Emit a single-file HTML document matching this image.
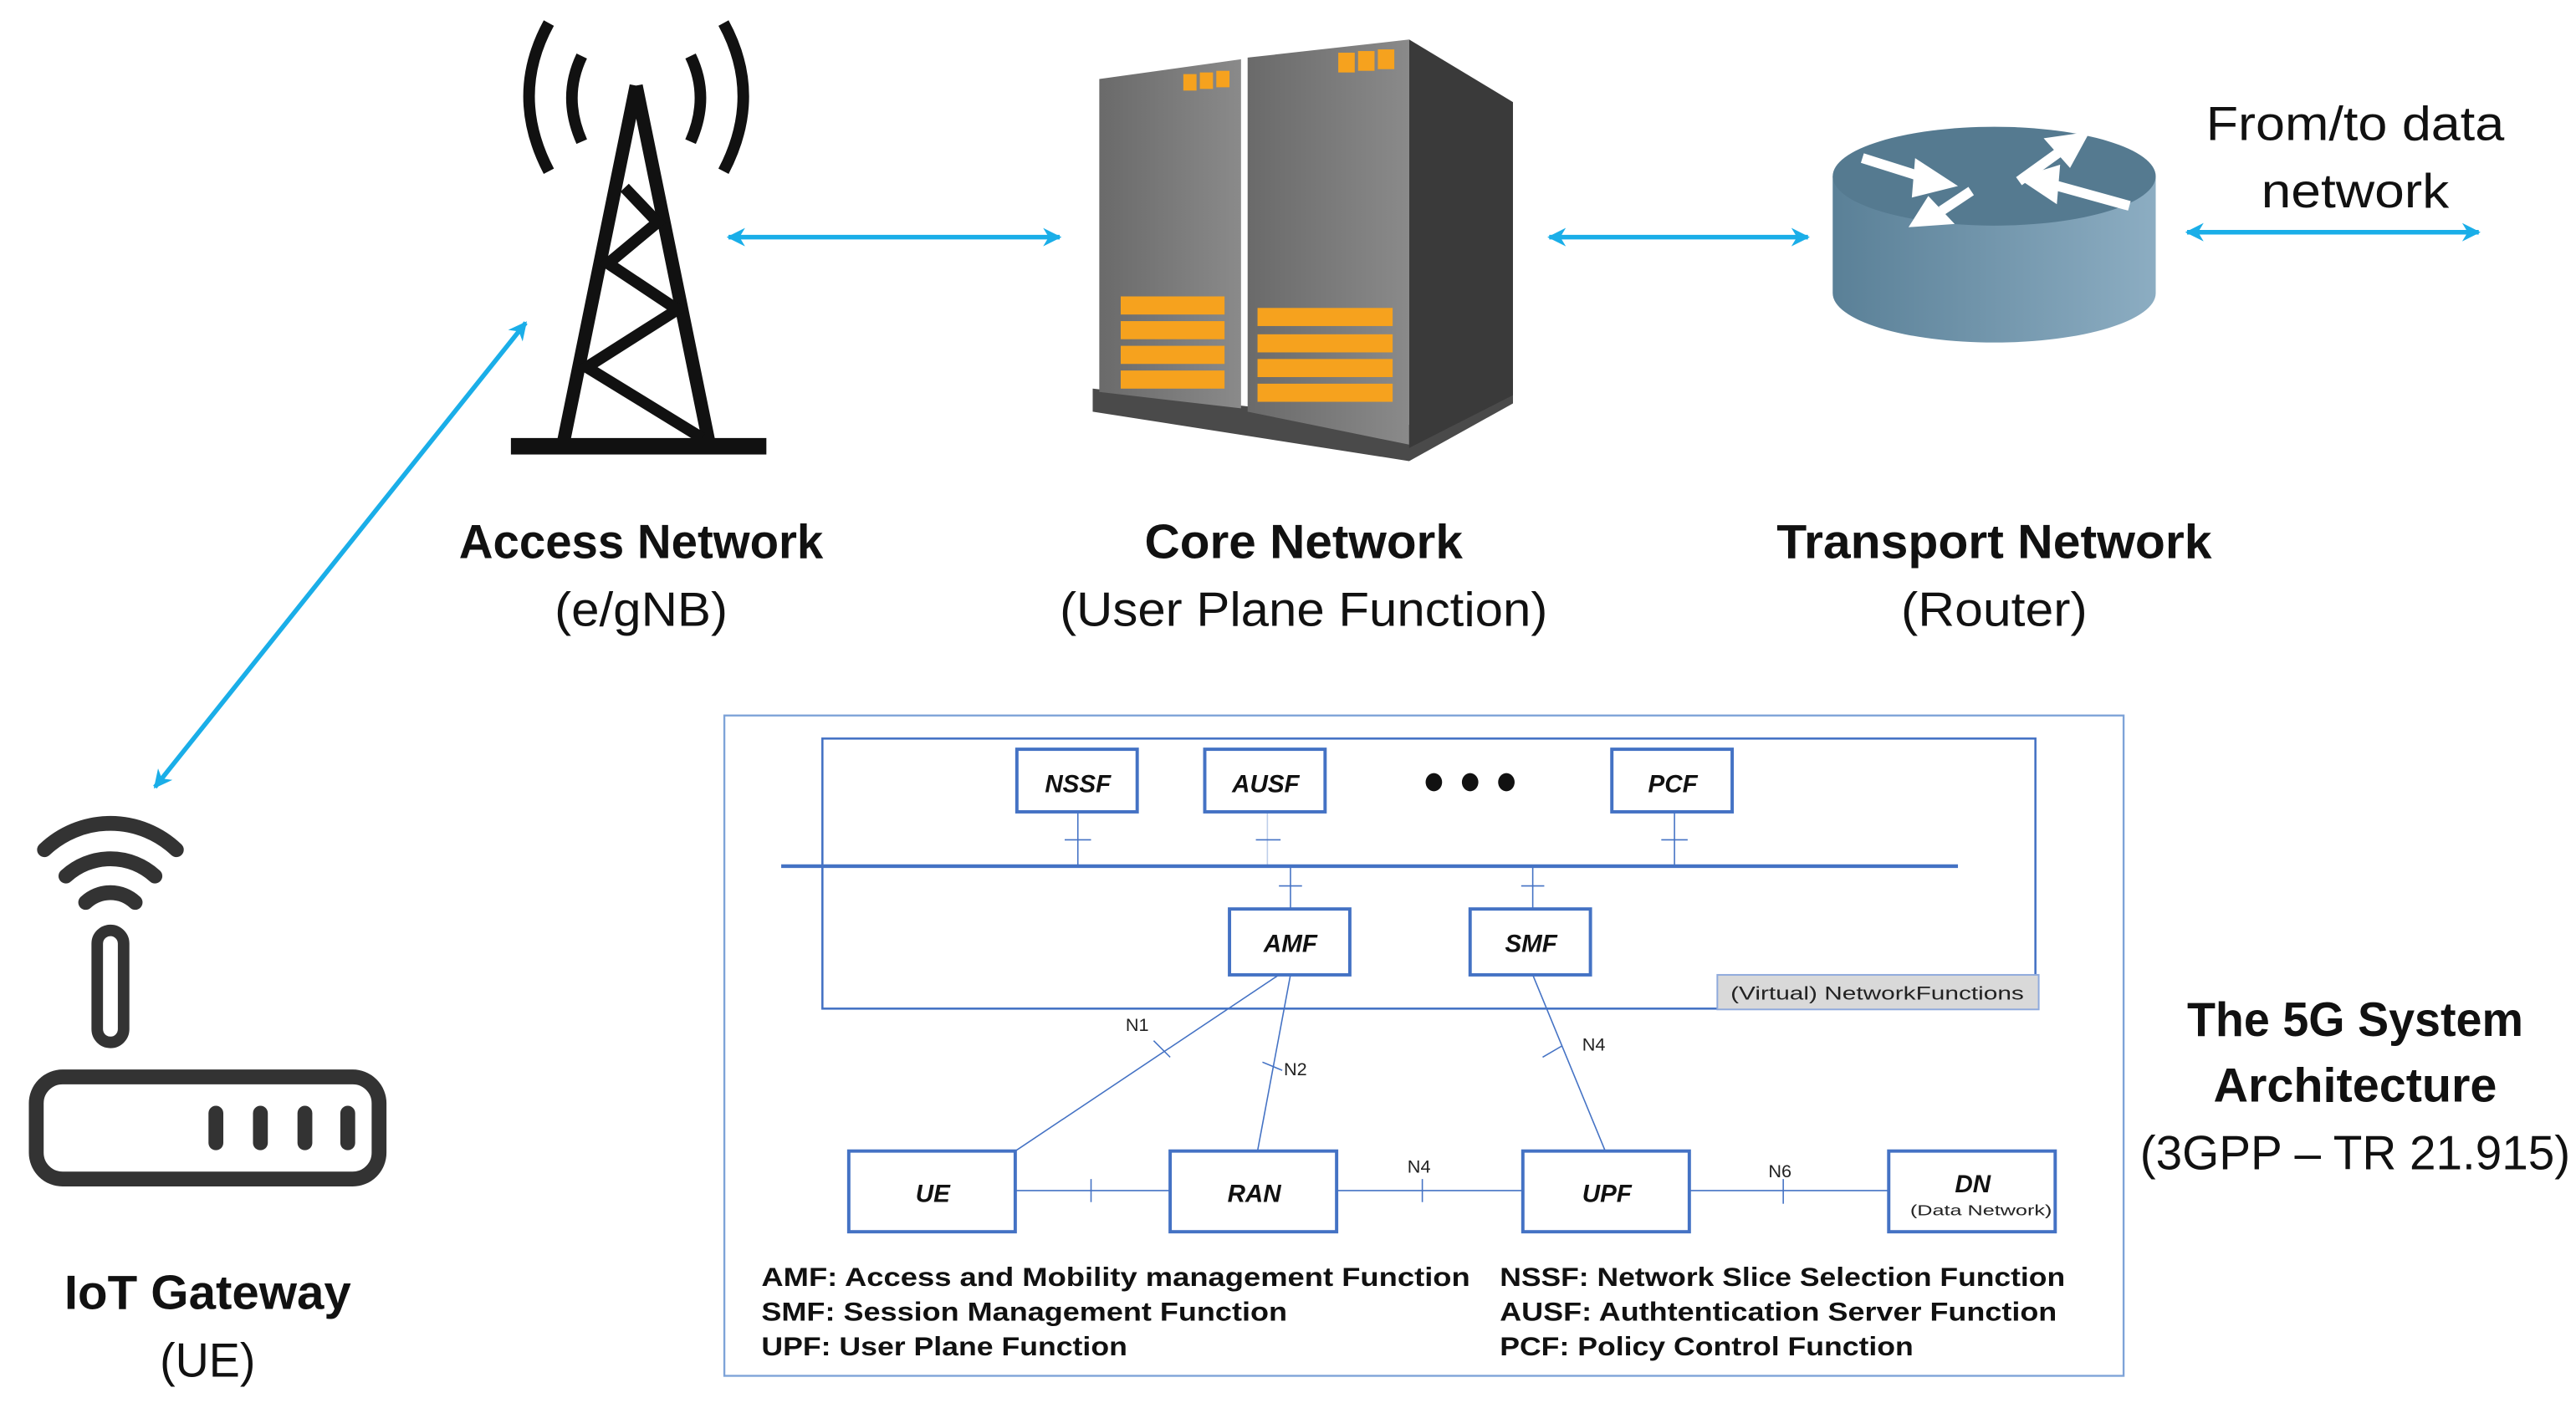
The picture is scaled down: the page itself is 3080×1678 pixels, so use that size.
<!DOCTYPE html>
<html><head><meta charset="utf-8"><style>
html,body{margin:0;padding:0;background:#fff;}
svg{display:block;}
text{font-family:"Liberation Sans",sans-serif;}
</style></head><body>
<svg width="3080" height="1678" viewBox="0 0 1563 852" preserveAspectRatio="none" xmlns="http://www.w3.org/2000/svg">
<defs>
<marker id="ah" viewBox="0 0 10 10" refX="9" refY="5" markerWidth="4" markerHeight="4" orient="auto-start-reverse"><path d="M0,0 L10,5 L0,10 L3,5 z" fill="#1aaee8"/></marker>
<linearGradient id="rb" x1="0" x2="1" y1="0" y2="0"><stop offset="0" stop-color="#5a8097"/><stop offset="1" stop-color="#8cadc2"/></linearGradient>
<linearGradient id="sv" x1="0" x2="1"><stop offset="0" stop-color="#6a6a6a"/><stop offset="1" stop-color="#8a8a8a"/></linearGradient>
</defs>

<!-- Tower -->
<g fill="none" stroke="#111" stroke-width="7">
<path d="M333,14 Q309,58 333,104"/><path d="M439,14 Q463,58 439,104"/>
<path d="M353,34 Q341,59 353,86"/><path d="M419,34 Q431,59 419,86"/>
<path d="M386,52 L342,268 M386,52 L430,268" stroke-width="8"/>
<path d="M379,114 L399,135 L369,160 L411,188 L356,223 L426,266" stroke-width="7"/>
</g>
<rect x="310" y="266" width="155" height="10" fill="#111"/>

<!-- arrows -->
<g stroke="#1aaee8" stroke-width="2.8" fill="none">
<line x1="442" y1="144" x2="643" y2="144" marker-start="url(#ah)" marker-end="url(#ah)"/>
<line x1="940" y1="144" x2="1097" y2="144" marker-start="url(#ah)" marker-end="url(#ah)"/>
<line x1="1327" y1="141" x2="1504" y2="141" marker-start="url(#ah)" marker-end="url(#ah)"/>
<line x1="319" y1="196" x2="94" y2="478" marker-start="url(#ah)" marker-end="url(#ah)"/>
</g>

<!-- Server -->
<polygon points="663,236 855,258 918,230 918,245 855,280 663,250" fill="#4a4a4a"/>
<polygon points="667,48 753,36 753,248 667,238" fill="url(#sv)"/>
<polygon points="757,35 855,24 855,270 757,250" fill="url(#sv)"/>
<polygon points="855,24 918,62 918,240 855,272" fill="#3a3a3a"/>
<g fill="#f6a21e">
<rect x="718" y="45" width="8" height="10"/><rect x="728" y="44" width="8" height="10"/><rect x="738" y="43" width="8" height="10"/>
<rect x="812" y="32" width="10" height="12"/><rect x="824" y="31" width="10" height="12"/><rect x="836" y="30" width="10" height="12"/>
<rect x="680" y="180" width="63" height="11"/><rect x="680" y="195" width="63" height="11"/><rect x="680" y="210" width="63" height="11"/><rect x="680" y="225" width="63" height="11"/>
<rect x="763" y="187" width="82" height="11"/><rect x="763" y="203" width="82" height="11"/><rect x="763" y="218" width="82" height="11"/><rect x="763" y="233" width="82" height="11"/>
</g>

<!-- Router -->
<path d="M1112,107 L1112,178 A98,30 0 0 0 1308,178 L1308,107 z" fill="url(#rb)"/>
<ellipse cx="1210" cy="107" rx="98" ry="30" fill="#557a90"/>
<g stroke="#fff" stroke-width="6" fill="#fff">
<line x1="1130" y1="96" x2="1168" y2="108"/><line x1="1225" y1="110" x2="1250" y2="92"/>
<line x1="1292" y1="125" x2="1245" y2="112"/><line x1="1196" y1="116" x2="1178" y2="128"/>
</g>
<g fill="#fff">
<polygon points="1188,113 1162,96 1160,120"/><polygon points="1268,80 1240,84 1256,102"/>
<polygon points="1224,108 1250,100 1248,124"/><polygon points="1158,138 1186,136 1170,119"/>
</g>

<!-- WiFi gateway -->
<g fill="none" stroke="#333" stroke-width="9" stroke-linecap="round">
<rect x="22" y="654" width="208" height="62" rx="16"/>
<rect x="59" y="565" width="16" height="68" rx="8" stroke-width="7"/>
<path d="M52,548 A22,22 0 0 1 82,548"/>
<path d="M40,532 A40,40 0 0 1 94,532"/>
<path d="M27,516 A58,58 0 0 1 107,516"/>
<line x1="131" y1="676" x2="131" y2="694"/><line x1="158" y1="676" x2="158" y2="694"/>
<line x1="185" y1="676" x2="185" y2="694"/><line x1="211" y1="676" x2="211" y2="694"/>
</g>

<!-- top labels -->
<g font-size="29" text-anchor="middle" fill="#111">
<text x="389" y="339" font-weight="bold" textLength="221" lengthAdjust="spacingAndGlyphs">Access Network</text>
<text x="389" y="380" textLength="105" lengthAdjust="spacingAndGlyphs">(e/gNB)</text>
<text x="791" y="339" font-weight="bold" textLength="193" lengthAdjust="spacingAndGlyphs">Core Network</text>
<text x="791" y="380" textLength="296" lengthAdjust="spacingAndGlyphs">(User Plane Function)</text>
<text x="1210" y="339" font-weight="bold" textLength="264" lengthAdjust="spacingAndGlyphs">Transport Network</text>
<text x="1210" y="380" textLength="113" lengthAdjust="spacingAndGlyphs">(Router)</text>
<text x="1429" y="85" textLength="181" lengthAdjust="spacingAndGlyphs">From/to data</text>
<text x="1429" y="126" textLength="114" lengthAdjust="spacingAndGlyphs">network</text>
<text x="126" y="795" font-weight="bold" textLength="174" lengthAdjust="spacingAndGlyphs">IoT Gateway</text>
<text x="126" y="836" textLength="58" lengthAdjust="spacingAndGlyphs">(UE)</text>
<text x="1429" y="629" font-weight="bold" textLength="204" lengthAdjust="spacingAndGlyphs">The 5G System</text>
<text x="1429" y="669" font-weight="bold" textLength="172" lengthAdjust="spacingAndGlyphs">Architecture</text>
<text x="1429" y="710" textLength="261" lengthAdjust="spacingAndGlyphs">(3GPP – TR 21.915)</text>
</g>

<!-- 5G diagram -->
<rect x="439.5" y="434.5" width="849" height="401" fill="none" stroke="#7ea3d8" stroke-width="1.2"/>
<rect x="499" y="448.5" width="736" height="164" fill="none" stroke="#4472c4" stroke-width="1.3"/>
<rect x="1042" y="592" width="195" height="21" fill="#d9d9d9" stroke="#8faadc" stroke-width="1"/>
<text x="1139" y="607" font-size="11.5" text-anchor="middle" textLength="178" lengthAdjust="spacingAndGlyphs" fill="#222">(Virtual) NetworkFunctions</text>
<line x1="474" y1="526" x2="1188" y2="526" stroke="#4472c4" stroke-width="2.2"/>
<g stroke="#4472c4" stroke-width="0.8" fill="none">
<line x1="654" y1="493" x2="654" y2="526"/><line x1="646" y1="510" x2="662" y2="510"/>
<line x1="769" y1="493" x2="769" y2="526" stroke-opacity="0.35"/><line x1="762" y1="510" x2="777" y2="510"/>
<line x1="1016" y1="493" x2="1016" y2="526"/><line x1="1008" y1="510" x2="1024" y2="510"/>
<line x1="783" y1="526" x2="783" y2="552"/><line x1="776" y1="538" x2="790" y2="538"/>
<line x1="930" y1="526" x2="930" y2="552"/><line x1="923" y1="538" x2="937" y2="538"/>
<line x1="776" y1="592" x2="616" y2="699"/><line x1="700" y1="632" x2="710" y2="642"/>
<line x1="783" y1="592" x2="763" y2="699"/><line x1="766" y1="645" x2="778" y2="650"/>
<line x1="930" y1="592" x2="974" y2="699"/><line x1="936" y1="642" x2="948" y2="635"/>
<line x1="616" y1="723" x2="710" y2="723"/><line x1="662" y1="716" x2="662" y2="730"/>
<line x1="811" y1="723" x2="924" y2="723"/><line x1="863" y1="716" x2="863" y2="730"/>
<line x1="1025" y1="723" x2="1146" y2="723"/><line x1="1082" y1="716" x2="1082" y2="731"/>
</g>
<g fill="#fff" stroke="#4472c4" stroke-width="2">
<rect x="617" y="455" width="73" height="38"/><rect x="731" y="455" width="73" height="38"/><rect x="978" y="455" width="73" height="38"/>
<rect x="746" y="552" width="73" height="40"/><rect x="892" y="552" width="73" height="40"/>
<rect x="515" y="699" width="101" height="49"/><rect x="710" y="699" width="101" height="49"/>
<rect x="924" y="699" width="101" height="49"/><rect x="1146" y="699" width="101" height="49"/>
</g>
<g fill="#111"><ellipse cx="870" cy="475" rx="5" ry="5.5"/><ellipse cx="892" cy="475" rx="5" ry="5.5"/><ellipse cx="914" cy="475" rx="5" ry="5.5"/></g>
<g font-size="15" font-weight="bold" font-style="italic" text-anchor="middle" fill="#111">
<text x="654" y="481">NSSF</text><text x="768" y="481">AUSF</text><text x="1015" y="481">PCF</text>
<text x="783" y="578">AMF</text><text x="929" y="578">SMF</text>
<text x="566" y="730">UE</text><text x="761" y="730">RAN</text><text x="975" y="730">UPF</text><text x="1197" y="724">DN</text>
</g>
<text x="1202" y="738" font-size="9" text-anchor="middle" fill="#222" textLength="86" lengthAdjust="spacingAndGlyphs">(Data Network)</text>
<g font-size="11" fill="#222" text-anchor="middle">
<text x="690" y="626">N1</text><text x="786" y="653">N2</text><text x="967" y="638">N4</text>
<text x="861" y="712">N4</text><text x="1080" y="715">N6</text>
</g>
<g font-size="16" font-weight="bold" fill="#111">
<text x="462" y="781" textLength="430" lengthAdjust="spacingAndGlyphs">AMF: Access and Mobility management Function</text>
<text x="462" y="802" textLength="319" lengthAdjust="spacingAndGlyphs">SMF: Session Management Function</text>
<text x="462" y="823" textLength="222" lengthAdjust="spacingAndGlyphs">UPF: User Plane Function</text>
<text x="910" y="781" textLength="343" lengthAdjust="spacingAndGlyphs">NSSF: Network Slice Selection Function</text>
<text x="910" y="802" textLength="338" lengthAdjust="spacingAndGlyphs">AUSF: Authtentication Server Function</text>
<text x="910" y="823" textLength="251" lengthAdjust="spacingAndGlyphs">PCF: Policy Control Function</text>
</g>
</svg>
</body></html>
